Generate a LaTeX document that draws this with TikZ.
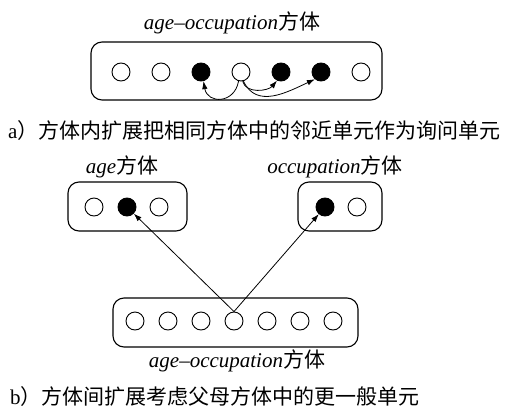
\documentclass[tikz,border=0pt]{standalone}
\usepackage{fontspec}
\setmainfont{Liberation Serif}
\newfontfamily\cjk{Noto Sans CJK SC}
\usetikzlibrary{arrows.meta}
\begin{document}
\begin{tikzpicture}[x=1pt,y=-1pt,
  cell/.style={circle,draw,line width=0.9pt,minimum size=18pt,inner sep=0pt},
  full/.style={cell,fill=black},
  cube/.style={draw,line width=1.1pt,rounded corners=11pt,inner sep=0pt},
  lbl/.style={font=\fontsize{21}{24}\selectfont,inner sep=0pt},
  arr/.style={line width=0.8pt,-{Latex[length=8pt,width=5.5pt]}}]
\useasboundingbox (0,0) rectangle (508,415);
% --- part a ---
\node[lbl] (ltop) at (232,23) {\textit{age–occupation}{\cjk 方体}};
\node[cube,minimum width=291pt,minimum height=58pt] (boxa) at (236.5,71) {};
\node[cell] (t1) at (121,72) {};
\node[cell] (t2) at (161,72) {};
\node[full] (t3) at (201,72) {};
\node[cell] (t4) at (241,72) {};
\node[full] (t5) at (281,72) {};
\node[full] (t6) at (321,72) {};
\node[cell] (t7) at (361,72) {};
\draw[arr] (t4.255) to[out=-100,in=-80,looseness=1.7] (t3.285);
\draw[arr] (t4.280) to[out=-75,in=-130] (t5.245);
\draw[arr] (t4.285) to[out=-65,in=-155,looseness=1.1] (t6.230);
\node[lbl,anchor=west] (capa) at (8,131) {a{\cjk ）方体内扩展把相同方体中的邻近单元作为询问单元}};
% --- part b ---
\node[lbl] (lage) at (122,167) {\textit{age}{\cjk 方体}};
\node[cube,minimum width=119pt,minimum height=49pt] (boxage) at (127.5,206.5) {};
\node[cell] (a1) at (94,207) {};
\node[full] (a2) at (127,207) {};
\node[cell] (a3) at (159,207) {};
\node[lbl] (locc) at (335,167) {\textit{occupation}{\cjk 方体}};
\node[cube,minimum width=84pt,minimum height=49pt] (boxocc) at (340,206.5) {};
\node[full] (o1) at (325,207) {};
\node[cell] (o2) at (357,207) {};
\node[cube,minimum width=245pt,minimum height=49pt] (boxb) at (235.5,322.5) {};
\node[cell] (b1) at (135,321) {};
\node[cell] (b2) at (168,321) {};
\node[cell] (b3) at (201,321) {};
\node[cell] (b4) at (234,321) {};
\node[cell] (b5) at (267,321) {};
\node[cell] (b6) at (300,321) {};
\node[cell] (b7) at (333,321) {};
\node[lbl] (lbot) at (237,361) {\textit{age–occupation}{\cjk 方体}};
\draw[arr] (b4.north) -- (a2);
\draw[arr] (b4.north) -- (o1);
\node[lbl,anchor=west] (capb) at (10,397) {b{\cjk ）方体间扩展考虑父母方体中的更一般单元}};
\end{tikzpicture}
\end{document}
